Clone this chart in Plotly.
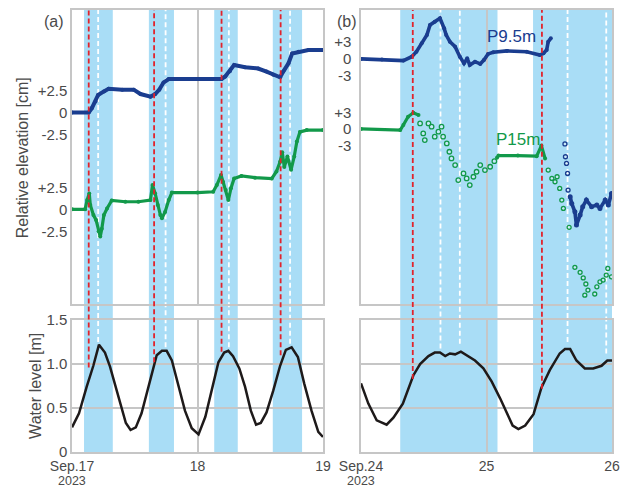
import numpy as np
import pandas as pd
import plotly.graph_objects as go

# ---------------- data (hours from 00:00 of first day) ----------------
# Water level [m]
wl_a_t = [0, 1.34, 2.8, 4.08, 5.16, 6.3, 7.27, 8.86, 10.3, 11.2, 12.2, 13.3, 14.9, 16.2, 17.2, 18.1,
          19.1, 20.3, 21.6, 22.9, 24.2, 25.5, 26.7, 28.0, 29.1, 29.9, 30.8, 32.0, 33.1, 34.2, 35.2,
          36.1, 37.2, 38.5, 39.8, 40.9, 42.0, 43.2, 44.4, 45.8, 47.1, 48.0]
wl_a_v = [0.28, 0.44, 0.74, 0.98, 1.22, 1.13, 0.97, 0.63, 0.33, 0.25, 0.28, 0.44, 0.80, 1.10, 1.15, 1.15,
          1.04, 0.78, 0.47, 0.27, 0.20, 0.40, 0.70, 1.02, 1.13, 1.15, 1.09, 0.95, 0.74, 0.47, 0.31,
          0.33, 0.45, 0.70, 0.98, 1.16, 1.19, 1.08, 0.78, 0.47, 0.23, 0.17]
wl_b_t = [0, 1.4, 3.0, 4.9, 6.2, 8.0, 10.0, 11.3, 12.9, 14.1, 15.1, 16.1, 17.0, 18.0, 19.1, 20.2,
          21.8, 23.4, 25.0, 26.6, 27.9, 29.0, 30.1, 31.4, 33.0, 34.5, 36.1, 38.0, 39.0, 40.0, 41.2,
          42.8, 44.4, 46.0, 47.1, 48.0]
wl_b_v = [0.78, 0.55, 0.36, 0.31, 0.39, 0.55, 0.87, 1.00, 1.09, 1.13, 1.13, 1.09, 1.12, 1.11, 1.14, 1.10,
          1.04, 0.95, 0.80, 0.61, 0.44, 0.30, 0.26, 0.30, 0.43, 0.73, 0.93, 1.12, 1.17, 1.17, 1.04,
          0.95, 0.95, 0.98, 1.04, 1.04]

# Relative elevation [cm], panel (a)
p95_a_t = [0, 3.2, 3.8, 4.5, 5.0, 6.1, 7.0, 9.6, 11.8, 13.1, 15.0, 15.9, 16.7, 17.5, 18.5, 24.0, 28.6,
           29.3, 30.2, 31.0, 33.1, 35.6, 37.2, 38.5, 39.8, 40.4, 41.4, 42.1, 43.3, 45.2, 48.0]
p95_a_v = [0, 0, 0.5, 1.25, 2.0, 2.4, 2.7, 2.6, 2.6, 2.1, 1.8, 2.1, 2.6, 3.4, 3.8, 3.8, 3.8,
           4.1, 4.7, 5.4, 5.15, 5.0, 4.65, 4.3, 4.0, 4.65, 5.6, 6.7, 6.9, 7.1, 7.1]
p15_a_t = [0, 2.5, 2.9, 3.3, 3.5, 4.1, 4.6, 5.1, 5.4, 5.7, 6.1, 6.7, 7.6, 10.2, 12.7, 15.0, 15.4, 15.9,
           16.4, 16.9, 17.2, 17.8, 18.5, 19.1, 24.0, 27.0, 27.7, 28.5, 28.9, 29.4, 29.9, 30.4, 31.0,
           32.4, 35.0, 38.2, 39.1, 39.8, 40.2, 40.6, 41.2, 41.9, 42.5, 43.0, 43.6, 44.9, 48.0]
p15_a_v = [0, 0, 1.06, 1.8, 0.5, -0.65, -1.2, -2.5, -3.1, -2.2, -0.65, 0.1, 1.0, 0.86, 0.86, 1.05, 2.76, 1.8,
           0.5, -0.65, -1.0, -0.3, 1.05, 1.9, 1.9, 2.0, 2.76, 3.9, 3.1, 2.2, 1.05, 2.4, 3.5,
           3.8, 3.6, 3.5, 4.3, 5.4, 6.5, 4.8, 6.0, 4.5, 6.0, 7.7, 8.8, 9.0, 9.0]

# Relative elevation [cm], panel (b)
p95_b1_t = [0, 4, 8.1, 9.7, 10.6, 11.6, 12.6, 13.2, 14.1, 15.1, 15.9, 16.3, 17.0, 18.0, 18.9, 19.7, 20.3,
            20.8, 21.8, 22.8, 23.5, 24.3, 25.3, 27.9, 31.7, 34.2, 34.9, 35.5, 35.8, 36.3]
p95_b1_v = [0, -0.1, -0.3, 0.4, 1.3, 2.8, 4.3, 6.1, 6.7, 7.3, 5.5, 4.3, 3.1, 2.2, 0.4, -0.8, 0.1,
            -1.1, -0.5, -0.9, -0.2, 0.9, 1.2, 1.44, 1.3, 0.7, 1.0, 1.6, 3.1, 3.7]
p95_b2_t = [39.0, 39.1, 39.3, 39.5, 39.6]
p95_b2_v = [-15.3, -17.6, -18.8, -20.6, -23.6]
p95_b3_t = [40.0, 40.3, 40.9, 41.2, 41.9, 42.4, 43.1, 44.1, 45.1, 45.7, 46.7, 47.3, 47.9]
p95_b3_v = [-24.8, -26.0, -27.5, -29.9, -28.1, -26.6, -25.4, -26.6, -26.3, -26.9, -25.4, -26.3, -24.2]
p15_b1_t = [0, 7.5, 8.1, 9.0, 10.0, 11.0]
p15_b1_v = [0, -0.2, 0.7, 2.2, 2.9, 2.5]
p15_b2_t = [11.3, 11.9, 12.2, 12.9, 13.5, 14.1, 14.8, 15.4, 15.7, 16.4, 16.9, 17.3, 18.0, 18.6, 19.6,
            20.2, 20.8, 21.5, 22.1, 22.8, 23.7, 24.7, 25.5]
p15_b2_v = [1.0, -0.8, -2.0, 1.0, 0.4, -1.4, -0.5, 0.4, -1.4, -2.6, -4.1, -5.3, -6.5, -9.2, -8.0,
            -8.9, -10.1, -8.6, -7.7, -6.5, -7.4, -6.8, -5.8]
p15_b3_t = [26.0, 26.3, 30.0, 33.6, 34.5, 35.2]
p15_b3_v = [-5.2, -4.8, -4.8, -4.9, -3.0, -5.3]
p15_b4_t = [35.8, 36.5, 37.1, 37.5, 38.0, 38.4, 38.7, 39.8, 40.9, 41.9, 42.5, 42.8, 43.0, 43.4, 44.7,
            45.1, 45.7, 46.3, 46.9, 47.2, 47.9]
p15_b4_v = [-7.4, -8.9, -9.5, -8.6, -10.7, -12.8, -14.3, -17.7, -24.9, -25.8, -26.8, -29.9, -27.9, -29.0, -29.7,
            -28.4, -27.5, -27.2, -26.3, -25.1, -26.6]

# Shaded periods, red / white markers [h] and where they stop on the water-level axis [m]
bands_a = [(2.3, 7.8), (14.7, 19.5), (27.2, 31.7), (38.4, 44.0)]
bands_b = [(7.5, 26.1), (32.9, 48.0)]
red_a_t = [3.2, 15.7, 28.6, 39.9]
red_a_end = [0.96, 1.02, 1.14, 1.10]
white_a_t = [5.0, 17.9, 30.0, 41.7]
white_a_end = [1.25, 1.19, 1.19, 1.23]
red_b_t = [9.9, 34.6]
red_b_end = [0.83, 0.72]
white_b_t = [15.2, 18.9, 39.5, 46.9]
white_b_end = [1.175, 1.23, 1.25, 1.12]

start_a = pd.Timestamp("2023-09-17")
start_b = pd.Timestamp("2023-09-24")
ticks_a = ["Sep.17", "18", "19"]
ticks_b = ["Sep.24", "25", "26"]
year_label = "2023"

OFF_A = 11.0   # vertical offset of P9.5m curve in panel (a)
OFF_B = 12.6   # vertical offset of P9.5m curve in panel (b)


def T(base, hours):
    return base + pd.to_timedelta(np.asarray(hours, dtype=float), unit="h")


BLUE = "#1a3d8f"
GREEN = "#12994a"
BAND = "#a9ddf6"
RED = "#e2232b"
GRID = "#c6c6c6"
TXT = "#4a4a4a"
FONT = "Liberation Sans, Arial, sans-serif"

fig = go.Figure()


def add_line(base, t, v, off, color, xa, ya, width=4, msize=4):
    fig.add_trace(go.Scatter(x=T(base, t), y=np.asarray(v) + off, mode="lines+markers",
                             line=dict(color=color, width=width), marker=dict(color=color, size=msize),
                             xaxis=xa, yaxis=ya, showlegend=False, hoverinfo="skip"))


def add_dots(base, t, v, off, color, xa, ya, size=4):
    fig.add_trace(go.Scatter(x=T(base, t), y=np.asarray(v) + off, mode="markers",
                             marker=dict(color="rgba(255,255,255,0.35)", size=size,
                                         line=dict(color=color, width=1.3)),
                             xaxis=xa, yaxis=ya, showlegend=False, hoverinfo="skip"))


add_line(start_a, p95_a_t, p95_a_v, OFF_A, BLUE, "x3", "y3", width=4)
add_line(start_a, p15_a_t, p15_a_v, 0, GREEN, "x3", "y3", width=3.2)

add_line(start_b, p95_b1_t, p95_b1_v, OFF_B, BLUE, "x4", "y4", width=3.6)
add_dots(start_b, p95_b2_t, p95_b2_v, OFF_B, BLUE, "x4", "y4")
add_line(start_b, p95_b3_t, p95_b3_v, OFF_B, BLUE, "x4", "y4", width=3.6, msize=5)
add_line(start_b, p15_b1_t, p15_b1_v, 0, GREEN, "x4", "y4", width=3.2)
add_dots(start_b, p15_b2_t, p15_b2_v, 0, GREEN, "x4", "y4", size=4.5)
add_line(start_b, p15_b3_t, p15_b3_v, 0, GREEN, "x4", "y4", width=3.2)
add_dots(start_b, p15_b4_t, p15_b4_v, 0, GREEN, "x4", "y4")

fig.add_trace(go.Scatter(x=T(start_a, wl_a_t), y=wl_a_v, mode="lines", line=dict(color="#1e1a1a", width=2.5),
                         xaxis="x", yaxis="y", showlegend=False, hoverinfo="skip"))
fig.add_trace(go.Scatter(x=T(start_b, wl_b_t), y=wl_b_v, mode="lines", line=dict(color="#1e1a1a", width=2.5),
                         xaxis="x2", yaxis="y2", showlegend=False, hoverinfo="skip"))

BOT = [0, 0.2986]
TOP = [0.3348, 1.0]
XL = [0, 0.4648]
XR = [0.5352, 1.0]
WL_RANGE = [0, 1.5]


def wl_paper(v):
    return BOT[0] + (v - WL_RANGE[0]) / (WL_RANGE[1] - WL_RANGE[0]) * (BOT[1] - BOT[0])


shapes = []
for base, xr, bands, rt, re, wt, we in [
        (start_a, "x", bands_a, red_a_t, red_a_end, white_a_t, white_a_end),
        (start_b, "x2", bands_b, red_b_t, red_b_end, white_b_t, white_b_end)]:
    for a, b in bands:
        shapes.append(dict(type="rect", xref=xr, yref="paper", x0=T(base, [a])[0], x1=T(base, [b])[0],
                           y0=0, y1=1, fillcolor=BAND, line=dict(width=0), layer="below"))
    for t, e in zip(wt, we):
        x = T(base, [t])[0]
        shapes.append(dict(type="line", xref=xr, yref="paper", x0=x, x1=x, y0=wl_paper(e), y1=1,
                           line=dict(color="white", width=1.8, dash="5px,3px"), layer="below"))
    for t, e in zip(rt, re):
        x = T(base, [t])[0]
        shapes.append(dict(type="line", xref=xr, yref="paper", x0=x, x1=x, y0=wl_paper(e), y1=1,
                           line=dict(color=RED, width=1.8, dash="5px,3px"), layer="above"))

axis_common = dict(showline=True, mirror=True, linecolor=GRID, linewidth=1.5, gridcolor=GRID, gridwidth=1.5,
                   zeroline=False, ticks="", automargin=False,
                   tickfont=dict(family=FONT, size=15, color=TXT))


def xa(domain, base, text, show):
    return dict(axis_common, domain=domain, type="date",
                range=[base, base + pd.Timedelta(hours=48)],
                tickvals=[base, base + pd.Timedelta(hours=24), base + pd.Timedelta(hours=48)],
                ticktext=text, showticklabels=show, showgrid=True, ticklabelstandoff=0,
                tickfont=dict(family=FONT, size=14, color=TXT))


fig.update_layout(
    width=623, height=489,
    margin=dict(l=72, r=11, t=10, b=37, autoexpand=False),
    paper_bgcolor="white", plot_bgcolor="rgba(0,0,0,0)",
    font=dict(family=FONT, color=TXT),
    shapes=shapes,
    xaxis=dict(xa(XL, start_a, ticks_a, True), anchor="y"),
    xaxis2=dict(xa(XR, start_b, ticks_b, True), anchor="y2"),
    xaxis3=dict(xa(XL, start_a, ticks_a, False), anchor="y3"),
    xaxis4=dict(xa(XR, start_b, ticks_b, False), anchor="y4"),
    yaxis=dict(axis_common, domain=BOT, range=WL_RANGE, anchor="x",
               tickvals=[0, 0.5, 1.0, 1.5], ticktext=["0", "0.5", "1.0", "1.5"], showgrid=True),
    yaxis2=dict(axis_common, domain=BOT, range=WL_RANGE, anchor="x2",
                tickvals=[0, 0.5, 1.0, 1.5], showticklabels=False, showgrid=True),
    yaxis3=dict(axis_common, domain=TOP, range=[-10.76, 22.65], anchor="x3", showgrid=False,
                tickvals=[OFF_A + 2.5, OFF_A, OFF_A - 2.5, 2.5, 0, -2.5],
                ticktext=["+2.5", "0", "-2.5", "+2.5", "0", "-2.5"]),
    yaxis4=dict(axis_common, domain=TOP, range=[-31.5, 21.4], anchor="x4", showgrid=False,
                tickvals=[OFF_B + 3, OFF_B, OFF_B - 3, 3, 0, -3],
                ticktext=["+3", "0", "-3", "+3", "0", "-3"], ticklabelstandoff=5),
)

ann = [
    dict(text="(a)", x=-0.033, y=0.975, font=dict(size=16, color=TXT)),
    dict(text="(b)", x=0.509, y=0.975, font=dict(size=16, color=TXT)),
    dict(text="P9.5m", x=0.8148, y=0.939, font=dict(size=17, color=BLUE)),
    dict(text="P15m", x=0.826, y=0.708, font=dict(size=17, color=GREEN)),
    dict(text="Relative elevation [cm]", x=-0.0926, y=0.667, textangle=-90, font=dict(size=16, color=TXT)),
    dict(text="Water level [m]", x=-0.069, y=0.149, textangle=-90, font=dict(size=16, color=TXT)),
    dict(text=year_label, x=XL[0], y=-0.0667, font=dict(size=12.5, color=TXT)),
    dict(text=year_label, x=XR[0], y=-0.0667, font=dict(size=12.5, color=TXT)),
]
for a in ann:
    a.update(xref="paper", yref="paper", showarrow=False, xanchor="center", yanchor="middle")
    a["font"]["family"] = FONT
fig.update_layout(annotations=ann)

fig.write_html("out.html", config={"displayModeBar": False},
               post_script="document.body.style.margin='0';document.body.style.overflow='hidden';")
